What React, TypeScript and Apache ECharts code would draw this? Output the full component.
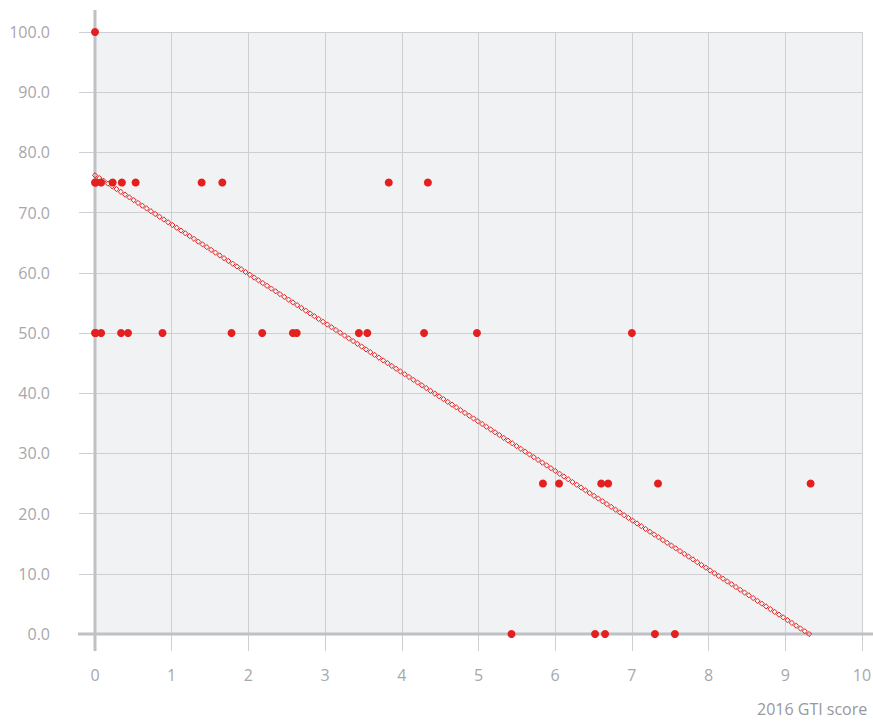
import React, { useEffect, useRef } from "react";
import * as echarts from "echarts";

const xTicks = [0, 1, 2, 3, 4, 5, 6, 7, 8, 9, 10];
const yTicks = [0, 10, 20, 30, 40, 50, 60, 70, 80, 90, 100];

const gtiScore = [
  0,
  0, 0.01, 0.08, 0.23, 0.35, 0.53, 1.39, 1.66, 3.83, 4.34,
  0, 0.01, 0.08, 0.34, 0.43, 0.88, 1.78, 2.18, 2.58, 2.63, 3.44, 3.55, 4.29, 4.98, 7.0,
  5.84, 6.05, 6.6, 6.69, 7.34, 9.33,
  5.43, 6.52, 6.65, 7.3, 7.56,
];
const yValue = [
  100,
  75, 75, 75, 75, 75, 75, 75, 75, 75, 75,
  50, 50, 50, 50, 50, 50, 50, 50, 50, 50, 50, 50, 50, 50, 50,
  25, 25, 25, 25, 25, 25,
  0, 0, 0, 0, 0,
];
const trendStart = [0, 76.2];
const trendEnd = [9.31, 0];

const RED = "#e3201f";
const GRID = "#cfcfd3";
const AXIS = "#c0c0c5";
const LABEL = "#a7a7ac";
const FONT = "'Open Sans', 'Noto Sans', sans-serif";

export default function App() {
  const ref = useRef<HTMLDivElement>(null);
  useEffect(() => {
    if (!ref.current) return;
    const chart = echarts.init(ref.current, null, { renderer: "svg" });
    const left = 95, right = 11, top = 32, bottom = 88;
    chart.setOption({
      animation: false,
      grid: {
        left, right, top, bottom,
        show: true,
        backgroundColor: "#f1f2f4",
        borderWidth: 0,
        outerBoundsMode: "none",
        containLabel: false,
      },
      xAxis: {
        type: "value",
        min: xTicks[0],
        max: xTicks[xTicks.length - 1],
        interval: 1,
        axisLine: { show: false },
        axisTick: { show: true, length: 17, lineStyle: { color: GRID, width: 1 } },
        splitLine: { show: true, lineStyle: { color: GRID, width: 1 } },
        axisLabel: { color: LABEL, fontSize: 16, fontFamily: FONT, margin: 33 },
      },
      yAxis: {
        type: "value",
        min: yTicks[0],
        max: yTicks[yTicks.length - 1],
        interval: 10,
        axisLine: { show: false },
        axisTick: { show: true, length: 16, lineStyle: { color: GRID, width: 1 } },
        splitLine: { show: true, lineStyle: { color: GRID, width: 1 } },
        axisLabel: {
          color: LABEL, fontSize: 16, fontFamily: FONT, margin: 45,
          formatter: (v: number) => v.toFixed(1),
        },
      },
      graphic: [
        {
          type: "line", z: 1,
          shape: { x1: 78, y1: 634, x2: 873, y2: 634 },
          style: { stroke: AXIS, lineWidth: 3 },
        },
        {
          type: "line", z: 1,
          shape: { x1: 95, y1: 10, x2: 95, y2: 651 },
          style: { stroke: AXIS, lineWidth: 3 },
        },
        {
          type: "text", left: 757, top: 701,
          style: { text: "2016 GTI score", fill: "#98989d", font: `16px ${FONT}` },
        },
      ],
      series: [
        {
          type: "custom",
          z: 3,
          data: [[trendStart[0], trendStart[1], trendEnd[0], trendEnd[1]]],
          encode: { x: [0, 2], y: [1, 3] },
          renderItem: (params: any, api: any) => {
            const p0 = api.coord([api.value(0), api.value(1)]);
            const p1 = api.coord([api.value(2), api.value(3)]);
            const dx = p1[0] - p0[0];
            const dy = p1[1] - p0[1];
            const n = Math.max(1, Math.round(dx / 4.3));
            const h = 2.6;
            const children: any[] = [];
            for (let i = 0; i <= n; i++) {
              const cx = p0[0] + (dx * i) / n;
              const cy = p0[1] + (dy * i) / n;
              children.push({
                type: "polygon",
                shape: { points: [[cx, cy - h], [cx + h, cy], [cx, cy + h], [cx - h, cy]] },
                style: { fill: "rgba(0,0,0,0)", stroke: RED, lineWidth: 1 },
              });
            }
            return { type: "group", children };
          },
        },
        {
          type: "scatter",
          z: 4,
          symbol: "circle",
          symbolSize: 8,
          itemStyle: { color: RED, opacity: 1 },
          data: gtiScore.map((x, i) => [x, yValue[i]]),
        },
      ],
    });
    return () => chart.dispose();
  }, []);
  return (
    <div
      ref={ref}
      style={{ position: "fixed", left: 0, top: 0, width: 873, height: 722, background: "#fff" }}
    />
  );
}
